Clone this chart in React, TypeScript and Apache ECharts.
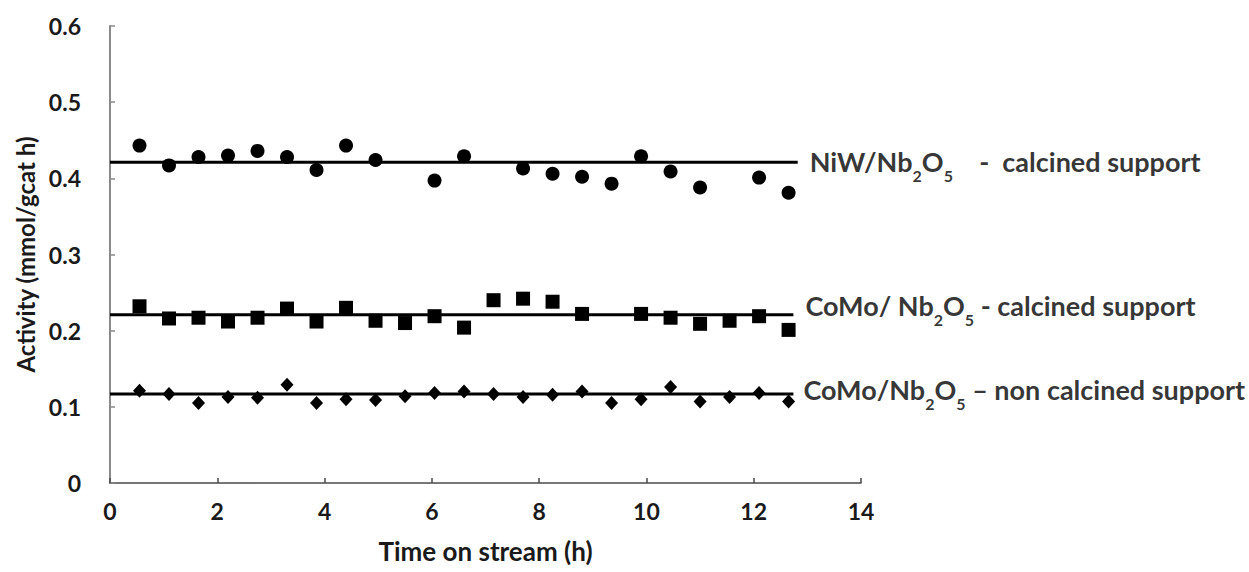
import React, { useEffect, useRef } from "react";
import * as echarts from "echarts";

// ---- Data ----
const timeH = [0.55, 1.1, 1.65, 2.2, 2.75, 3.3, 3.85, 4.4, 4.95, 5.5, 6.05, 6.6, 7.15, 7.7, 8.25, 8.8, 9.35, 9.9, 10.45, 11, 11.55, 12.1, 12.65];
const niwCalcined = [0.443, 0.417, 0.428, 0.43, 0.436, 0.428, 0.411, 0.443, 0.424, null, 0.397, 0.429, null, 0.413, 0.406, 0.402, 0.393, 0.429, 0.409, 0.388, null, 0.401, 0.381];
const comoCalcined = [0.232, 0.216, 0.217, 0.212, 0.217, 0.229, 0.212, 0.23, 0.213, 0.21, 0.219, 0.204, 0.24, 0.242, 0.238, 0.222, null, 0.222, 0.217, 0.209, 0.213, 0.219, 0.201];
const comoNonCalcined = [0.121, 0.117, 0.105, 0.113, 0.112, 0.129, 0.105, 0.11, 0.109, 0.114, 0.118, 0.12, 0.117, 0.113, 0.116, 0.12, 0.105, 0.11, 0.126, 0.107, 0.113, 0.118, 0.107];

// horizontal average lines: level and end time
const fitLevels = [0.421, 0.221, 0.117];
const fitEnds = [12.82, 12.74, 12.74];
const fitLabels = [
  "{a|NiW/Nb}{s|2}{a|O}{s|5}{a|\u00a0\u00a0\u00a0\u00a0-\u00a0\u00a0calcined support}",
  "{a|CoMo/\u00a0Nb}{s|2}{a|O}{s|5}{a|\u00a0-\u00a0calcined support}",
  "{a|CoMo/Nb}{s|2}{a|O}{s|5}{a|\u00a0\u2013\u00a0non calcined support}",
];
const labelOffsets = [
  [0, -1],
  [0, -9],
  [-2, -4],
];

const yTicks = { min: 0, max: 0.6, interval: 0.1 };
const xTicks = { min: 0, max: 14, interval: 2 };

const FONT = "Lato, 'Open Sans', sans-serif";

function pairs(values: (number | null)[]) {
  const out: [number, number][] = [];
  values.forEach((v, i) => {
    if (v !== null) out.push([timeH[i], v]);
  });
  return out;
}

export default function App() {
  const ref = useRef<HTMLDivElement>(null);
  useEffect(() => {
    if (!ref.current) return;
    const chart = echarts.init(ref.current, null, { renderer: "svg" });
    const rich = {
      a: { fontSize: 27, fontWeight: "bold", fontFamily: FONT, color: "#000", lineHeight: 44 },
      s: { fontSize: 16, fontWeight: "bold", fontFamily: FONT, color: "#000", lineHeight: 16, verticalAlign: "bottom" },
    };
    const fitSeries = fitLevels.map((lvl, k) => ({
      type: "line",
      data: [
        [0, lvl],
        [fitEnds[k], lvl],
      ],
      showSymbol: false,
      symbol: "none",
      lineStyle: { color: "#000", width: 3 },
      silent: true,
      z: 1,
    }));
    const labelSeries = {
      type: "scatter",
      symbolSize: 0,
      silent: true,
      data: fitLevels.map((lvl, k) => ({
        value: [fitEnds[k], lvl],
        label: {
          show: true,
          position: "right",
          distance: 12,
          offset: labelOffsets[k],
          formatter: fitLabels[k],
          rich,
        },
      })),
    };
    chart.setOption({
      animation: false,
      backgroundColor: "#fff",
      grid: { left: 110, right: 388, top: 26, bottom: 89, containLabel: false },
      xAxis: {
        type: "value",
        min: xTicks.min,
        max: xTicks.max,
        interval: xTicks.interval,
        name: "Time on stream (h)",
        nameLocation: "middle",
        nameGap: 55,
        nameTextStyle: { fontFamily: FONT, fontWeight: "bold", fontSize: 26, color: "#1a1a1a" },
        axisLine: { show: true, lineStyle: { color: "#4a4a4a", width: 1.5 } },
        axisTick: { show: true, inside: true, length: 5, lineStyle: { color: "#4a4a4a", width: 1.5 } },
        axisLabel: { fontFamily: FONT, fontWeight: "bold", fontSize: 23, color: "#1a1a1a", margin: 16 },
        splitLine: { show: false },
      },
      yAxis: {
        type: "value",
        min: yTicks.min,
        max: yTicks.max,
        interval: yTicks.interval,
        name: "Activity (mmol/gcat h)",
        nameLocation: "middle",
        nameRotate: 90,
        nameGap: 69,
        nameTextStyle: { fontFamily: FONT, fontWeight: "bold", fontSize: 24, color: "#1a1a1a" },
        axisLine: { show: true, lineStyle: { color: "#8a8a8a", width: 2 } },
        axisTick: { show: true, inside: true, length: 5, lineStyle: { color: "#8a8a8a", width: 1.5 } },
        axisLabel: { fontFamily: FONT, fontWeight: "bold", fontSize: 23, color: "#1a1a1a", margin: 29 },
        splitLine: { show: false },
      },
      series: [
        ...fitSeries,
        {
          type: "scatter",
          name: "NiW/Nb2O5 calcined",
          symbol: "circle",
          symbolSize: 14,
          itemStyle: { color: "#000", opacity: 1 },
          data: pairs(niwCalcined),
          z: 3,
        },
        {
          type: "scatter",
          name: "CoMo/Nb2O5 calcined",
          symbol: "rect",
          symbolSize: 14,
          itemStyle: { color: "#000", opacity: 1 },
          data: pairs(comoCalcined),
          z: 3,
        },
        {
          type: "scatter",
          name: "CoMo/Nb2O5 non calcined",
          symbol: "diamond",
          symbolSize: [13, 14],
          itemStyle: { color: "#000", opacity: 1 },
          data: pairs(comoNonCalcined),
          z: 3,
        },
        labelSeries,
      ],
    });
    return () => chart.dispose();
  }, []);
  return (
    <div
      ref={ref}
      style={{ position: "fixed", left: 0, top: 0, width: 1249, height: 572, background: "#fff" }}
    />
  );
}
